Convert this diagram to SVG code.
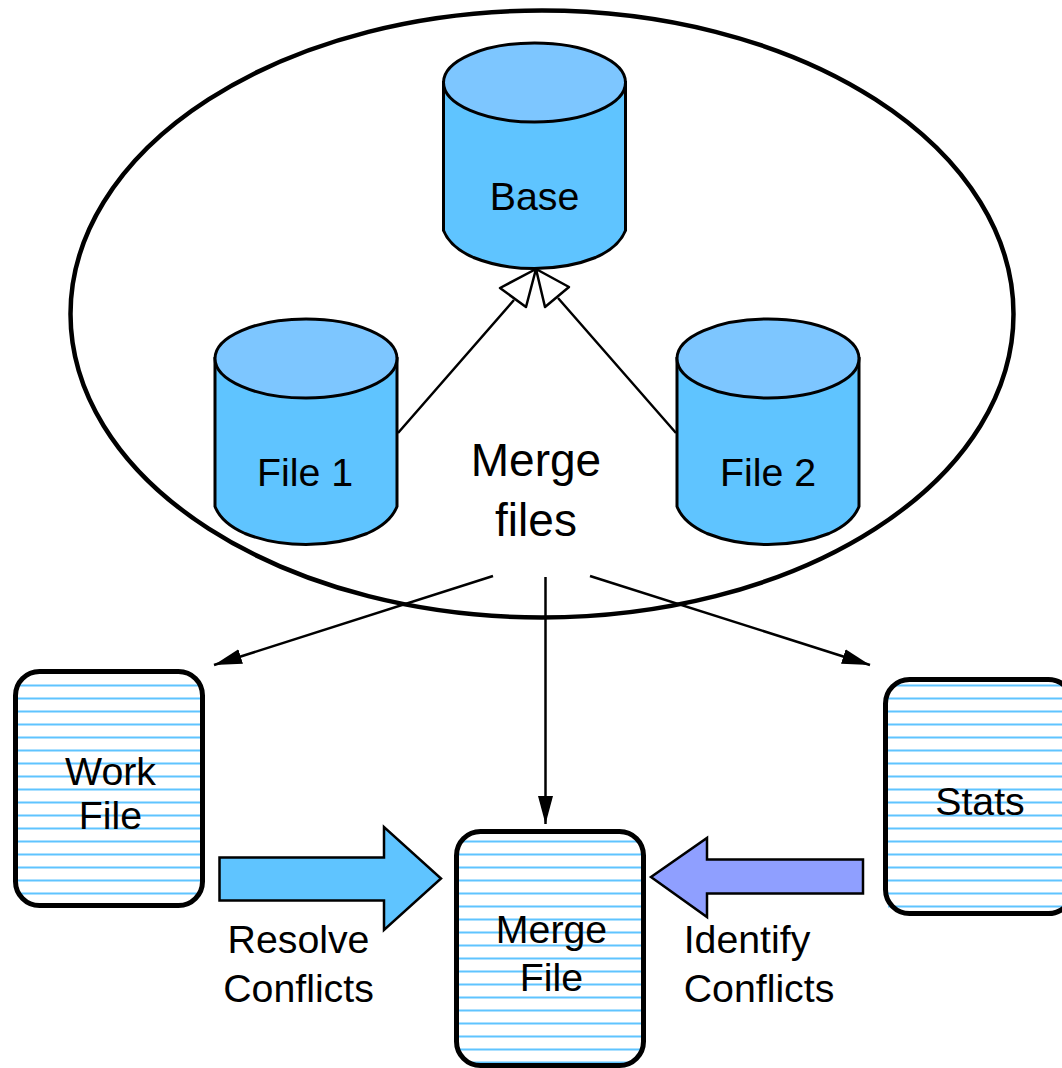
<svg xmlns="http://www.w3.org/2000/svg" width="1062" height="1068" viewBox="0 0 1062 1068">
<style>
text{font-family:"Liberation Sans",Arial,sans-serif;font-size:39.300px;fill:#000;text-anchor:middle}
.big{font-size:46px}
.body{fill:#5fc4ff;stroke:#000;stroke-width:3}
.top{fill:#7dc6ff;stroke:#000;stroke-width:3}
.doc{fill:#fff;stroke:none}
.frame{fill:none;stroke:#000;stroke-width:5}
.rule{stroke:#5fc4ff;stroke-width:2;fill:none}
.conn{stroke:#000;stroke-width:2.500;fill:none}
</style>
<defs>
<marker id="solid" markerUnits="userSpaceOnUse" markerWidth="30" markerHeight="18" refX="28" refY="9" orient="auto"><path d="M0 1.500L28 9L0 16.500Z" fill="#000"/></marker>
<g id="cyl">
<path class="body" d="M0 39V187C4 197 14 207 30 214C50 222 70 225 91 225C112 225 132 222 152 214C168 207 178 197 182 187V39Z"/>
<ellipse class="top" cx="91" cy="39" rx="91" ry="39.500"/>
</g>
<path id="rules" class="rule" d="M3 14.500H185M3 27.500H185M3 40.500H185M3 53.500H185M3 66.500H185M3 79.500H185M3 92.500H185M3 105.500H185M3 118.500H185M3 131.500H185M3 144.500H185M3 157.500H185M3 170.500H185M3 183.500H185M3 196.500H185M3 209.500H185M3 222.500H185"/>
</defs>
<g id="scope"><ellipse cx="542" cy="314" rx="471.500" ry="303.500" fill="#fff" stroke="#000" stroke-width="4.500"/></g>
<g id="connectors">
<path class="conn" d="M398 433L514 300M676 433L558 298"/>
<path d="M536 269L526 307L500 288Z" fill="#fff" stroke="#000" stroke-width="2.500" stroke-linejoin="round"/>
<path d="M536 269L569 287L545 307Z" fill="#fff" stroke="#000" stroke-width="2.500" stroke-linejoin="round"/>
<path class="conn" d="M493 576L214 665" marker-end="url(#solid)"/>
<path class="conn" d="M545.500 577V824" marker-end="url(#solid)"/>
<path class="conn" d="M590 576L870 665" marker-end="url(#solid)"/>
</g>
<g id="base"><use href="#cyl" x="443.500" y="43.500"/><text x="534.500" y="210">Base</text></g>
<g id="file1"><use href="#cyl" x="215" y="319.500"/><text x="305" y="486">File 1</text></g>
<g id="file2"><use href="#cyl" x="677" y="319.500"/><text x="768" y="486">File 2</text></g>
<g id="merge-files"><text class="big" x="536" y="476">Merge</text><text class="big" x="536" y="536">files</text></g>
<g id="work-file"><rect class="doc" x="15" y="671" width="188" height="235" rx="24"/><use href="#rules" x="15" y="671"/><rect class="frame" x="15.500" y="671.500" width="187" height="234" rx="24"/><text x="110.500" y="785">Work</text><text x="110.500" y="829">File</text></g>
<g id="merge-file"><rect class="doc" x="456" y="831" width="188" height="235" rx="24"/><use href="#rules" x="456" y="827"/><path class="rule" d="M466 1062.500H634"/><rect class="frame" x="456.500" y="831.500" width="187" height="234" rx="24"/><text x="551.500" y="943">Merge</text><text x="551.500" y="991">File</text></g>
<g id="stats"><rect class="doc" x="885" y="679" width="188" height="235" rx="24"/><use href="#rules" x="885" y="684"/><path class="rule" d="M895 685.500H1062"/><rect class="frame" x="885.500" y="679.500" width="187" height="234" rx="24"/><text x="980" y="815">Stats</text></g>
<g id="resolve"><path d="M219.500 857.500H384V827L441 878.500L384 930V900.500H219.500Z" fill="#5fc4ff" stroke="#000" stroke-width="2.500"/><text x="298.500" y="953">Resolve</text><text x="298.500" y="1002">Conflicts</text></g>
<g id="identify"><path d="M863 859.500H707V838L651 877L707 917V893.500H863Z" fill="#8f9fff" stroke="#000" stroke-width="2.500"/><text x="747" y="953">Identify</text><text x="759" y="1002">Conflicts</text></g>
</svg>
